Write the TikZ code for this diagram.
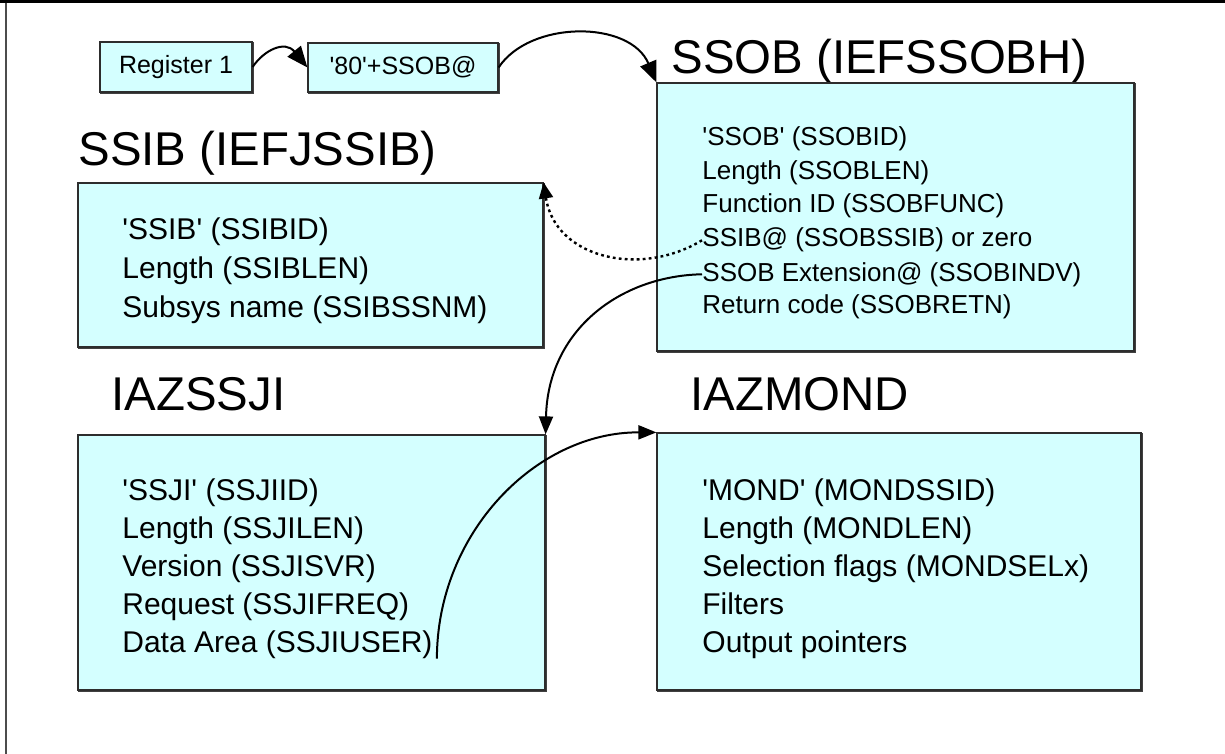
\documentclass[tikz,border=0pt]{standalone}
\usepackage{fontspec}
\setmainfont{Liberation Sans}
\usetikzlibrary{arrows.meta,fit}
\definecolor{boxfill}{RGB}{212,255,255}
\definecolor{boxline}{RGB}{45,45,45}
\newcommand{\sq}{\textquotesingle}
\begin{document}
\begin{tikzpicture}[x=0.5pt,y=-0.5pt,
  box/.style={draw=boxline, line width=0.6pt, fill=boxfill, inner sep=0pt,
    preaction={draw=black!75, line width=0.9pt, transform canvas={shift={(0.6pt,-0.6pt)}}}},
  title/.style={anchor=base west, inner sep=0pt, font=\fontsize{23.7pt}{28pt}\selectfont},
  txtA/.style={anchor=base west, inner sep=0pt, font=\fontsize{13pt}{16pt}\selectfont},
  txtB/.style={anchor=base west, inner sep=0pt, font=\fontsize{15pt}{18pt}\selectfont},
  conn/.style={line width=1pt, -{Triangle[length=9pt,width=7pt]}},
  bigconn/.style={line width=1pt, -{Triangle[length=10.5pt,width=8.5pt]}},
  dotconn/.style={line width=1.2pt, dash pattern=on 1.4pt off 1.6pt, -{Triangle[length=8pt,width=7pt]}}]
\useasboundingbox (0,0) rectangle (1225,754);
\fill[white] (0,0) rectangle (1225,754);
% frame lines
\fill[black] (0,0) rectangle (1225,3.5);
\draw[black!70, line width=0.6pt] (6,3) -- (6,754);

% top small boxes
\node[box, minimum width=76pt, minimum height=25pt, font=\fontsize{12.5pt}{15pt}\selectfont] (reg) at (176,67) {Register 1};
\node[box, minimum width=95pt, minimum height=24.5pt, font=\fontsize{12.5pt}{15pt}\selectfont] (eighty) at (403,67.5) {\sq80\sq+SSOB@};

% SSOB
\node[title] (tssob) at (671,74) {SSOB (IEFSSOBH)};
\node[box, fit={(657,83) (1134,351)}] (ssob) {};
\node[txtA] (o1) at (702,146) {\sq SSOB\sq\ (SSOBID)};
\node[txtA] (o2) at (702,180) {Length (SSOBLEN)};
\node[txtA] (o3) at (702,213) {Function ID (SSOBFUNC)};
\node[txtA] (o4) at (702,247) {SSIB@ (SSOBSSIB) or zero};
\node[txtA] (o5) at (702,281) {SSOB Extension@ (SSOBINDV)};
\node[txtA] (o6) at (702,314) {Return code (SSOBRETN)};

% SSIB
\node[title] (tssib) at (78,166) {SSIB (IEFJSSIB)};
\node[box, fit={(78,183) (543,347)}] (ssib) {};
\node[txtB] (b1) at (122,240) {\sq SSIB\sq\ (SSIBID)};
\node[txtB] (b2) at (122,278.5) {Length (SSIBLEN)};
\node[txtB] (b3) at (122,317) {Subsys name (SSIBSSNM)};

% IAZSSJI
\node[title] (tssji) at (111,410) {IAZSSJI};
\node[box, fit={(78,435) (545,690)}] (ssji) {};
\node[txtB] (j1) at (122,500) {\sq SSJI\sq\ (SSJIID)};
\node[txtB] (j2) at (122,538) {Length (SSJILEN)};
\node[txtB] (j3) at (122,576) {Version (SSJISVR)};
\node[txtB] (j4) at (122,614) {Request (SSJIFREQ)};
\node[txtB] (j5) at (122,652) {Data Area (SSJIUSER)};

% IAZMOND
\node[title] (tmond) at (690,410) {IAZMOND};
\node[box, fit={(657,433) (1141,690)}] (mond) {};
\node[txtB] (m1) at (702,500) {\sq MOND\sq\ (MONDSSID)};
\node[txtB] (m2) at (702,538) {Length (MONDLEN)};
\node[txtB] (m3) at (702,576) {Selection flags (MONDSELx)};
\node[txtB] (m4) at (702,614) {Filters};
\node[txtB] (m5) at (702,652) {Output pointers};

% connectors
\draw[bigconn] (reg.east) .. controls (264,50) and (285,40) .. (eighty.west);
\draw[bigconn] (eighty.east) .. controls (530,20) and (630,20) .. (ssob.north west);
\draw[dotconn] (o4.west) .. controls (640,278) and (555,258) .. (ssib.north east);
\draw[conn] (o5.west) .. controls (620,276) and (548,330) .. (ssji.north east);
\draw[conn] ([xshift=2pt]j5.south east) .. controls (437,533) and (536,432) .. (mond.north west);
\end{tikzpicture}
\end{document}
